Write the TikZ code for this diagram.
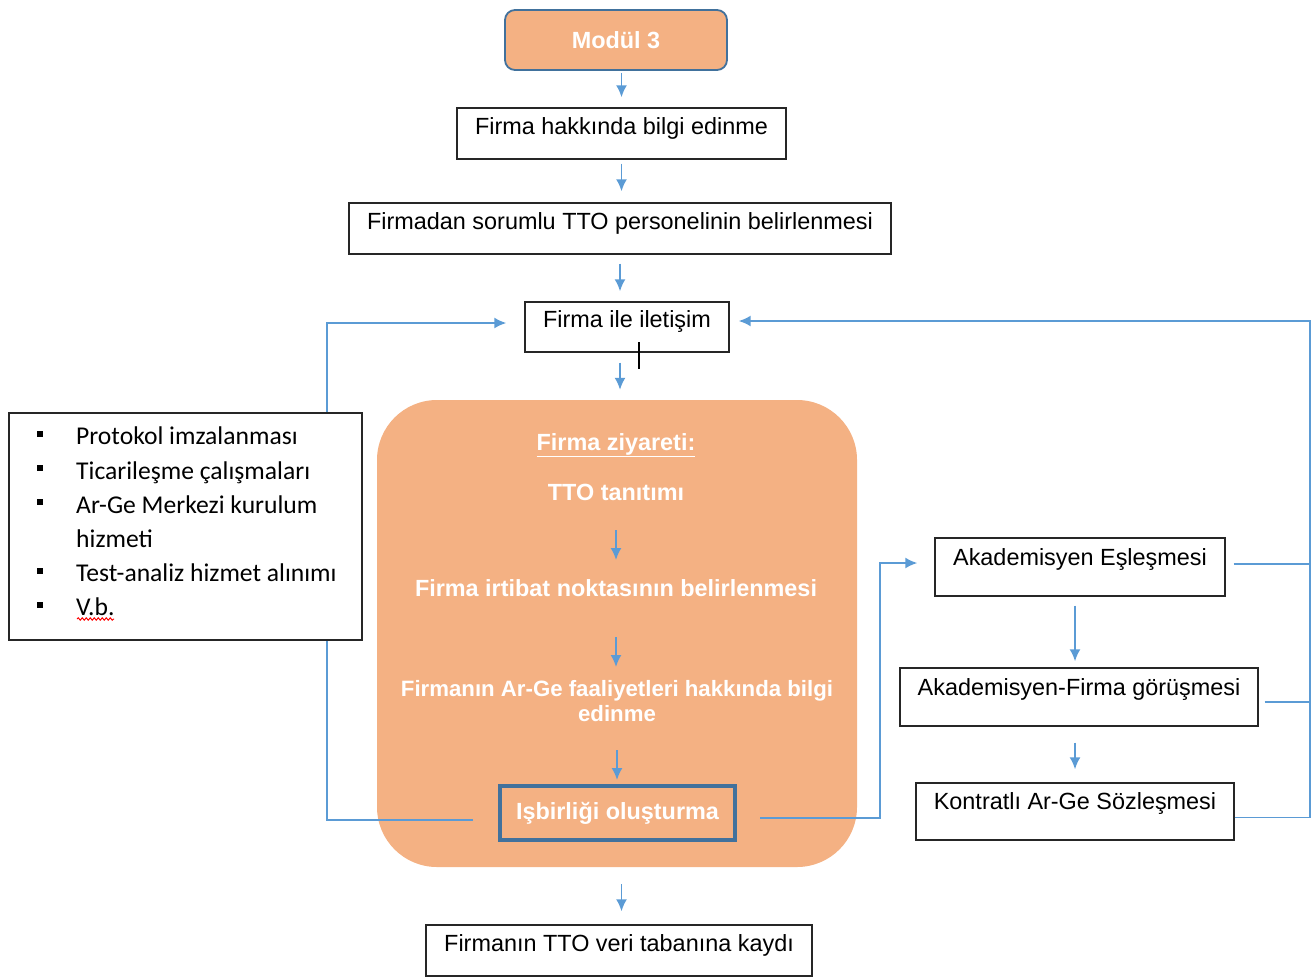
\documentclass[tikz,border=0pt]{standalone}
\usepackage{fontspec}
\setmainfont{Liberation Sans}
\newfontfamily\listfont{Carlito}
\usetikzlibrary{arrows.meta,positioning,calc,decorations.pathmorphing}
\definecolor{okblue}{RGB}{91,155,213}
\definecolor{kutuorange}{RGB}{244,177,131}
\definecolor{kenarblue}{RGB}{65,113,156}
\tikzset{
  adim/.style={draw=black!85,line width=1.4bp,fill=white,inner sep=0pt,
    font=\fontsize{23.5}{28}\selectfont,text height=17pt,text depth=16pt},
  sagadim/.style={adim,text depth=21pt},
  modulkutu/.style={draw=kenarblue,fill=kutuorange,line width=1.8bp,rounded corners=10bp,
    minimum width=222bp,minimum height=60bp,inner sep=0pt,text=white,
    font=\bfseries\fontsize{23.5}{28}\selectfont},
  ziyaretkutu/.style={fill=kutuorange,rounded corners=60bp,minimum width=480bp,
    minimum height=467bp,inner sep=0pt},
  beyaz/.style={text=white,align=center,inner sep=0pt,
    font=\bfseries\fontsize{23.5}{26}\selectfont},
  isbirligikutu/.style={draw=kenarblue,line width=4bp,minimum width=235bp,
    minimum height=54bp,inner sep=0pt,text=white,font=\bfseries\fontsize{23.5}{28}\selectfont},
  listekutu/.style={draw=black!85,line width=1.4bp,fill=white,minimum width=353bp,
    minimum height=227bp,inner sep=0pt},
  listemetin/.style={align=left,inner sep=0pt,font=\listfont\fontsize{25.7}{34.3}\selectfont},
  akis/.style={->,draw=okblue,line width=1.8bp},
  cizgi/.style={draw=okblue,line width=1.8bp}
}
\newcommand{\madde}{\makebox[39bp][l]{\rule[8bp]{6bp}{6bp}}}
\begin{document}
\begin{tikzpicture}[x=1bp,y=-1bp,>={Latex[length=12bp,width=11bp]}]
\useasboundingbox (0,0) rectangle (1312,976);
\node[modulkutu] (modul) at (616,40) {Modül 3};
\node[adim,minimum width=329bp,minimum height=51bp] (bilgi) at (621.5,133.5) {Firma hakkında bilgi edinme};
\node[adim,minimum width=542bp,minimum height=51bp] (sorumlu) at (620,228.5) {Firmadan sorumlu TTO personelinin belirlenmesi};
\node[adim,minimum width=204bp,minimum height=50bp] (iletisim) at (627,327) {Firma ile iletişim};
\node[ziyaretkutu] (ziyaret) at (617,633.5) {};
\node[beyaz] (baslik) at (616,445) {\underline{Firma ziyareti:}};
\node[beyaz] (tanitim) at (616,492) {TTO tanıtımı};
\node[beyaz] (irtibat) at (616,588) {Firma irtibat noktasının belirlenmesi};
\node[beyaz,font=\bfseries\fontsize{22.3}{26}\selectfont] (faaliyet) at (617,701) {Firmanın Ar-Ge faaliyetleri hakkında bilgi\\edinme};
\node[isbirligikutu] (isbirligi) at (617.5,813) {Işbirliği oluşturma};
\node[adim,minimum width=386bp,minimum height=51bp] (kayit) at (619,950.5) {Firmanın TTO veri tabanına kaydı};
\node[sagadim,minimum width=290bp,minimum height=58bp] (eslesme) at (1080,567) {Akademisyen Eşleşmesi};
\node[sagadim,minimum width=358bp,minimum height=58bp] (gorusme) at (1079,697) {Akademisyen-Firma görüşmesi};
\node[sagadim,minimum width=318bp,minimum height=57bp] (kontrat) at (1075,811.5) {Kontratlı Ar-Ge Sözleşmesi};
\coordinate (donus) at (1310,321);

\draw[akis,shorten <=2bp,shorten >=10bp] (modul.south -| bilgi) -- (bilgi.north);
\draw[akis,shorten <=4bp,shorten >=11bp] (bilgi.south) -- (bilgi.south |- sorumlu.north);
\draw[akis,shorten <=9bp,shorten >=10bp] (sorumlu.south) -- (sorumlu.south |- iletisim.north);
\draw[akis,shorten <=10bp,shorten >=10bp] (iletisim.south -| sorumlu) -- (sorumlu |- ziyaret.north);
\draw[akis,shorten <=38bp,shorten >=28bp] (tanitim.center) -- (tanitim.center |- irtibat.center);
\draw[akis,shorten <=49bp,shorten >=34bp] (irtibat.center) -- (irtibat.center |- faaliyet.center);
\draw[akis,shorten <=49bp,shorten >=33bp] (faaliyet.center) -- (faaliyet.center |- isbirligi.center);
\draw[akis,shorten <=17bp,shorten >=13bp] (ziyaret.south -| bilgi) -- (bilgi |- kayit.north);
\draw[akis,shorten <=9bp,shorten >=6bp] (eslesme.south -| kontrat) -- (gorusme.north -| kontrat);
\draw[akis,shorten <=16bp,shorten >=13bp] (gorusme.south -| kontrat) -- (kontrat.north);

\draw[akis,shorten <=25bp,shorten >=18bp] ([yshift=-7bp]isbirligi.west) -| ([xshift=-197bp,yshift=4bp]iletisim.west) -- ([yshift=4bp]iletisim.west);
\draw[akis,shorten <=23bp,shorten >=17bp] ([yshift=-5bp]isbirligi.east) -| ([xshift=-54bp,yshift=4bp]eslesme.west) -- ([yshift=4bp]eslesme.west);
\draw[cizgi] ([xshift=8bp,yshift=3bp]eslesme.east) -- ([yshift=3bp]eslesme.east -| donus);
\draw[cizgi] ([xshift=6bp,yshift=-5bp]gorusme.east) -- ([yshift=-5bp]gorusme.east -| donus);
\draw[akis,shorten >=9bp] ([yshift=-6bp]kontrat.east) -| (donus) -- (iletisim.east |- donus);

\node[listekutu] (liste) at (185.5,526.5) {};
\node[listemetin,anchor=north west] (maddeler) at (37,427) {\madde Protokol imzalanması\\
\madde Ticarileşme çalışmaları\\
\madde Ar-Ge Merkezi kurulum\\
\hspace*{39bp}hizmeti\\
\madde Test-analiz hizmet alınımı\\
\madde V.b.};
\draw[red,line width=1bp,decorate,decoration={snake,amplitude=1.2bp,segment length=4bp}] (77,619) -- (114,619);
\draw[black,line width=1.2bp] (639,342) -- (639,369);
\end{tikzpicture}
\end{document}
